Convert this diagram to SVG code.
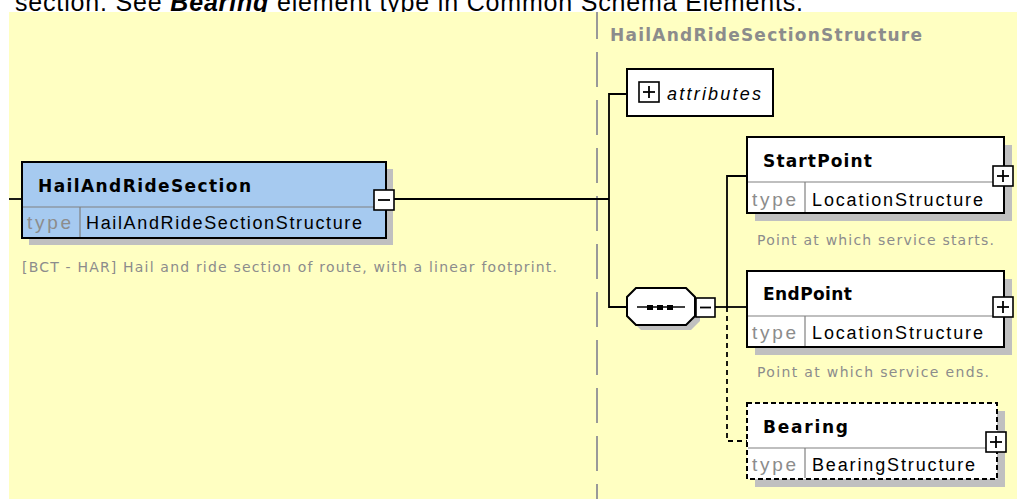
<svg xmlns="http://www.w3.org/2000/svg" width="1017" height="499" viewBox="0 0 1017 499">
<style>
.bg{fill:#FFFFC2}
.shadow{fill:#C0C0C0}
.box{stroke:#000;stroke-width:2}
.blue{fill:#A6CAF0}
.white{fill:#fff}
.dash{stroke-dasharray:5 3}
.div{stroke:#808080;stroke-width:1.2}
.conn{stroke:#000;stroke-width:1.8;fill:none}
.name{font-family:"DejaVu Sans",Verdana,sans-serif;font-weight:bold;font-size:17px;fill:#000}
.type{font-family:"Liberation Sans",Arial,sans-serif;font-size:19px;fill:#8c8c8c}
.tval{font-family:"Liberation Sans",Arial,sans-serif;font-size:18px;fill:#000}
.desc{font-family:"DejaVu Sans",Verdana,sans-serif;font-size:14px;fill:#8c8c8c}
.pm{fill:#fff;stroke:#000;stroke-width:1.6}
.sign{stroke:#000;stroke-width:1.8}
</style>
<rect x="0" y="0" width="1017" height="499" fill="#fff"/>
<text x="15" y="11" font-family="Liberation Sans,Arial,sans-serif" font-size="25" fill="#000" textLength="788">section. See <tspan font-weight="bold" font-style="italic">Bearing</tspan> element type in Common Schema Elements.</text>
<rect class="bg" x="9" y="12" width="1008" height="487"/>
<line x1="597" y1="12" x2="597" y2="499" stroke="#999" stroke-width="2" stroke-dasharray="35 13" stroke-dashoffset="8"/>
<text x="610" y="41" font-family="DejaVu Sans,Verdana,sans-serif" font-weight="bold" font-size="17" fill="#8c8c8c" textLength="312">HailAndRideSectionStructure</text>

<g id="connectors">
<line class="conn" x1="9" y1="199" x2="22" y2="199"/>
<line class="conn" x1="394" y1="199" x2="609" y2="199"/>
<polyline class="conn" points="627,94 609,94 609,307 627,307"/>
<line class="conn" x1="715" y1="307" x2="747" y2="307"/>
<polyline class="conn" points="747,176 727,176 727,307"/>
<polyline class="conn" points="727,307 727,441 747,441" stroke-dasharray="5 4"/>
</g>

<g id="HailAndRideSection">
<rect class="shadow" x="29" y="169" width="364" height="76"/>
<rect class="box blue" x="22" y="162" width="364" height="76"/>
<line class="div" x1="23" y1="207" x2="385" y2="207"/>
<line class="div" x1="80" y1="207" x2="80" y2="237"/>
<text class="name" x="38" y="192" textLength="213">HailAndRideSection</text>
<text class="type" x="27" y="229" textLength="44">type</text>
<text class="tval" x="86" y="229" textLength="276">HailAndRideSectionStructure</text>
<rect class="pm" x="374" y="190" width="20" height="20"/>
<line class="sign" x1="378" y1="200" x2="390" y2="200"/>
<text class="desc" x="22" y="272" textLength="535">[BCT - HAR] Hail and ride section of route, with a linear footprint.</text>
</g>

<g id="attributes">
<rect class="box white" x="627" y="69" width="146" height="47"/>
<rect class="pm" x="639" y="82" width="20" height="20"/>
<line class="sign" x1="643" y1="92" x2="655" y2="92"/>
<line class="sign" x1="649" y1="86" x2="649" y2="98"/>
<text x="667" y="100" font-family="Liberation Sans,Arial,sans-serif" font-style="italic" font-size="18" fill="#000" textLength="94">attributes</text>
</g>

<g id="sequence">
<polygon class="shadow" points="641,293 691,293 700,302 700,321 691,330 641,330 632,321 632,302"/>
<polygon class="box white" points="636,288 686,288 695,297 695,316 686,325 636,325 627,316 627,297"/>
<line x1="637" y1="307" x2="685" y2="307" stroke="#000" stroke-width="1.6"/>
<rect x="647" y="305" width="6" height="5" fill="#000"/>
<rect x="657" y="305" width="6" height="5" fill="#000"/>
<rect x="667" y="305" width="6" height="5" fill="#000"/>
<rect class="pm" x="696" y="298" width="19" height="19"/>
<line class="sign" x1="700" y1="307.5" x2="711" y2="307.5"/>
</g>

<g id="StartPoint">
<rect class="shadow" x="755" y="145" width="257" height="76"/>
<rect class="box white" x="747" y="137" width="257" height="76"/>
<line class="div" x1="748" y1="182" x2="1003" y2="182"/>
<line class="div" x1="805" y1="182" x2="805" y2="212"/>
<text class="name" x="763" y="167" textLength="109">StartPoint</text>
<text class="type" x="752" y="206" textLength="44">type</text>
<text class="tval" x="812" y="206" textLength="171">LocationStructure</text>
<rect class="pm" x="993" y="166" width="20" height="20"/>
<line class="sign" x1="997" y1="176" x2="1009" y2="176"/>
<line class="sign" x1="1003" y1="170" x2="1003" y2="182"/>
<text class="desc" x="757" y="245" textLength="237">Point at which service starts.</text>
</g>

<g id="EndPoint">
<rect class="shadow" x="755" y="279" width="257" height="76"/>
<rect class="box white" x="747" y="271" width="257" height="76"/>
<line class="div" x1="748" y1="316" x2="1003" y2="316"/>
<line class="div" x1="805" y1="316" x2="805" y2="346"/>
<text class="name" x="763" y="300" textLength="89">EndPoint</text>
<text class="type" x="752" y="339" textLength="44">type</text>
<text class="tval" x="812" y="339" textLength="171">LocationStructure</text>
<rect class="pm" x="993" y="297" width="20" height="20"/>
<line class="sign" x1="997" y1="307" x2="1009" y2="307"/>
<line class="sign" x1="1003" y1="301" x2="1003" y2="313"/>
<text class="desc" x="757" y="377" textLength="232">Point at which service ends.</text>
</g>

<g id="Bearing">
<rect class="shadow" x="755" y="411" width="250" height="76"/>
<rect class="box white dash" x="747" y="403" width="250" height="76"/>
<line class="div" x1="748" y1="448" x2="996" y2="448"/>
<line class="div" x1="805" y1="448" x2="805" y2="478"/>
<text class="name" x="763" y="433" textLength="85">Bearing</text>
<text class="type" x="752" y="471" textLength="44">type</text>
<text class="tval" x="812" y="471" textLength="163">BearingStructure</text>
<rect class="pm" x="986" y="432" width="20" height="20"/>
<line class="sign" x1="990" y1="442" x2="1002" y2="442"/>
<line class="sign" x1="996" y1="436" x2="996" y2="448"/>
</g>
</svg>
